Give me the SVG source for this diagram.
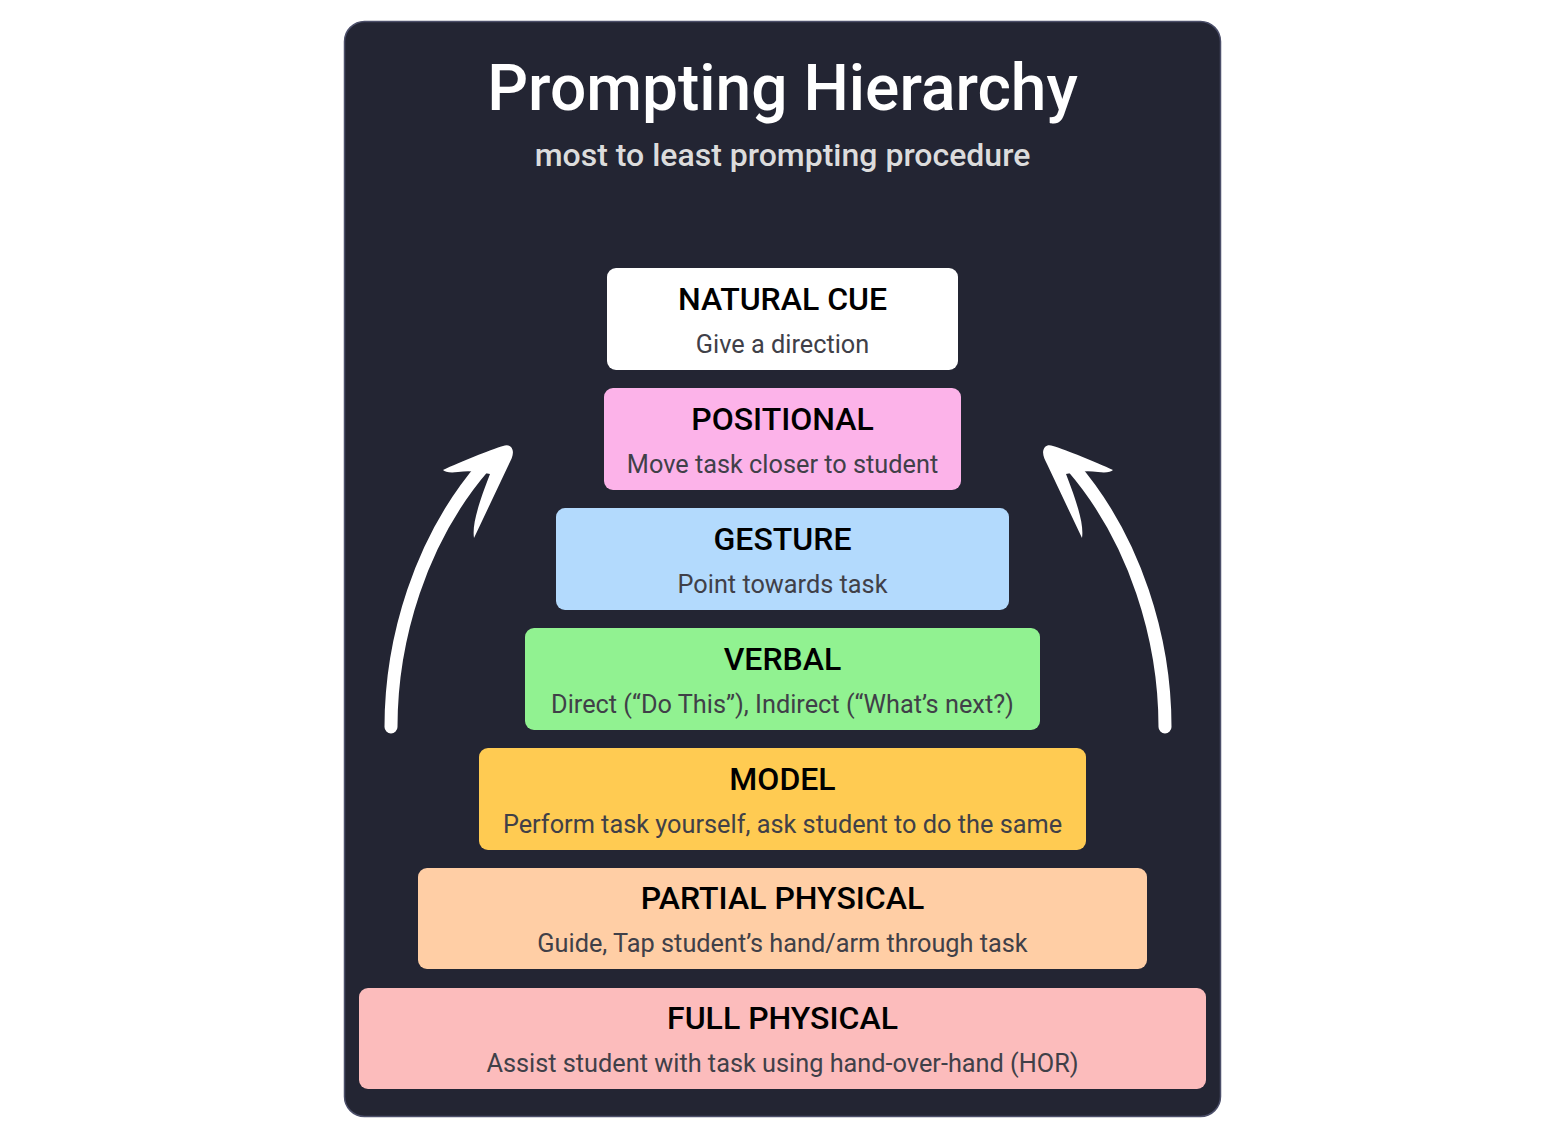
<svg xmlns="http://www.w3.org/2000/svg" width="1565" height="1139" viewBox="0 0 1565 1139">
<defs>
<style>
.t{font-family:Roboto,"Liberation Sans",sans-serif;font-weight:500;font-size:32px;fill:#000;text-anchor:middle}
.s{font-family:Roboto,"Liberation Sans",sans-serif;font-weight:400;font-size:25.3px;fill:#404048;text-anchor:middle}
.shaft{fill:none;stroke:#fff;stroke-width:13;stroke-linecap:round}
.head{fill:#fff}
</style>
<g id="arrowShape">
<path class="shaft" d="M391,727 C391,640 420,540 484,466"/>
<path class="head" d="M511,447 C515,452 512,458 509,464 L474,538 C472,525 478,505 490,474 C480,472 470,470 458,472 C450,473 445,472 443,470 C460,462 490,450 503,446 C506,445 509,445 511,447 Z"/>
</g>
</defs>
<rect width="1565" height="1139" fill="#ffffff"/>
<g id="panel">
<rect x="344.5" y="21.5" width="876" height="1095" rx="20" fill="#232533" stroke="#4c4f6a" stroke-width="1.5"/>
<text x="782.5" y="110" style="font-family:Roboto,'Liberation Sans',sans-serif;font-weight:500;font-size:64px;fill:#fff;text-anchor:middle">Prompting Hierarchy</text>
<text x="782.5" y="166" style="font-family:Roboto,'Liberation Sans',sans-serif;font-weight:500;font-size:32px;fill:#dcdcdc;text-anchor:middle">most to least prompting procedure</text>
</g>
<g id="connectors">
<use href="#arrowShape"/>
<use href="#arrowShape" transform="translate(1556,0) scale(-1,1)"/>
</g>
<g id="natural-cue">
<rect x="607" y="268" width="351" height="102" rx="9" fill="#ffffff"/>
<text class="t" x="782.5" y="310">NATURAL CUE</text>
<text class="s" x="782.5" y="353">Give a direction</text>
</g>
<g id="positional">
<rect x="604" y="388" width="357" height="102" rx="9" fill="#fcb3e9"/>
<text class="t" x="782.5" y="430">POSITIONAL</text>
<text class="s" x="782.5" y="473">Move task closer to student</text>
</g>
<g id="gesture">
<rect x="556" y="508" width="453" height="102" rx="9" fill="#b3dafd"/>
<text class="t" x="782.5" y="550">GESTURE</text>
<text class="s" x="782.5" y="593">Point towards task</text>
</g>
<g id="verbal">
<rect x="525" y="628" width="515" height="102" rx="9" fill="#91f291"/>
<text class="t" x="782.5" y="670">VERBAL</text>
<text class="s" x="782.5" y="713">Direct (“Do This”), Indirect (“What’s next?)</text>
</g>
<g id="model">
<rect x="479" y="748" width="607" height="102" rx="9" fill="#ffcb52"/>
<text class="t" x="782.5" y="790">MODEL</text>
<text class="s" x="782.5" y="833">Perform task yourself, ask student to do the same</text>
</g>
<g id="partial-physical">
<rect x="418" y="868" width="729" height="101" rx="9" fill="#ffcea5"/>
<text class="t" x="782.5" y="909">PARTIAL PHYSICAL</text>
<text class="s" x="782.5" y="952">Guide, Tap student’s hand/arm through task</text>
</g>
<g id="full-physical">
<rect x="359" y="988" width="847" height="101" rx="9" fill="#fcbcbc"/>
<text class="t" x="782.5" y="1029">FULL PHYSICAL</text>
<text class="s" x="782.5" y="1072">Assist student with task using hand-over-hand (HOR)</text>
</g>
</svg>
